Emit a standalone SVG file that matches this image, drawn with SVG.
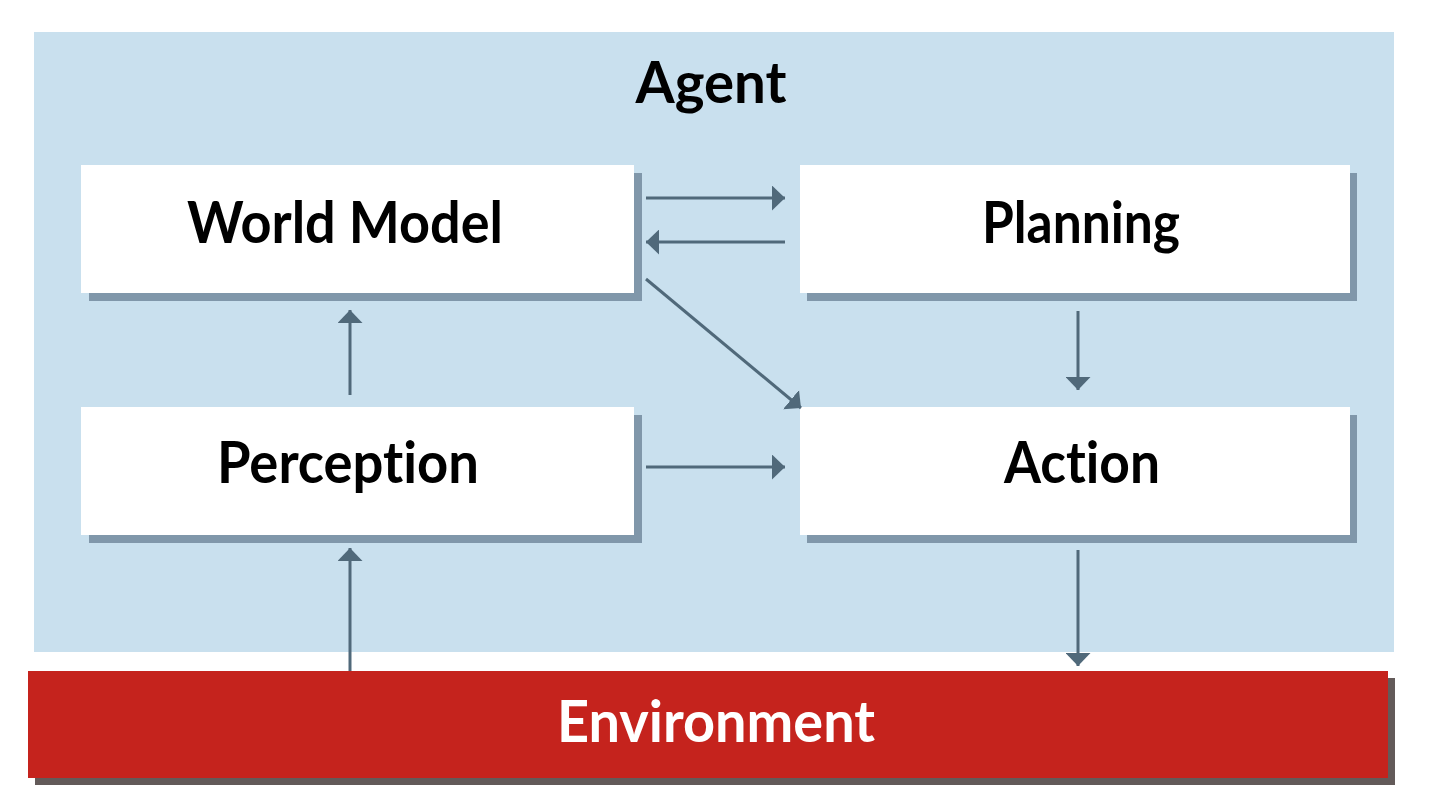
<svg xmlns="http://www.w3.org/2000/svg" width="1440" height="810" viewBox="0 0 1440 810">
<defs>
<marker id="ah" viewBox="0 0 13 25" refX="13" refY="12.5" markerWidth="13" markerHeight="25" markerUnits="userSpaceOnUse" orient="auto">
<path d="M0,0 L13,12.5 L0,25 Z" fill="#50697A"/>
</marker>
<style>
.lbl{font-family:Lato,"Liberation Sans",sans-serif;font-weight:700;font-size:58px;text-anchor:middle;fill:#000;font-variant-ligatures:none;font-feature-settings:"liga" 0,"clig" 0}
.box{fill:#fff}
.sh{fill:#8097AA}
.conn{stroke:#50697A;stroke-width:3;fill:none;marker-end:url(#ah)}
</style>
</defs>
<rect width="1440" height="810" fill="#fff"/>
<g id="agent">
<rect x="34" y="32" width="1360" height="620" fill="#C9E0EE"/>
<text class="lbl" x="711" y="103" textLength="151" lengthAdjust="spacingAndGlyphs">Agent</text>
</g>
<g id="world-model">
<rect class="sh" x="89" y="173" width="553" height="128"/>
<rect class="box" x="81" y="165" width="553" height="128"/>
<text class="lbl" x="345" y="243" textLength="316" lengthAdjust="spacingAndGlyphs">World Model</text>
</g>
<g id="planning">
<rect class="sh" x="807" y="173" width="550" height="128"/>
<rect class="box" x="800" y="165" width="550" height="128"/>
<text class="lbl" x="1081" y="243" textLength="198" lengthAdjust="spacingAndGlyphs">Planning</text>
</g>
<g id="perception">
<rect class="sh" x="89" y="415" width="553" height="128"/>
<rect class="box" x="81" y="407" width="553" height="128"/>
<text class="lbl" x="348" y="483" textLength="262" lengthAdjust="spacingAndGlyphs">Perception</text>
</g>
<g id="action">
<rect class="sh" x="807" y="415" width="550" height="128"/>
<rect class="box" x="800" y="407" width="550" height="128"/>
<text class="lbl" x="1082" y="483" textLength="156" lengthAdjust="spacingAndGlyphs">Action</text>
</g>
<g id="environment">
<rect x="35" y="678" width="1360" height="107" fill="#635A59"/>
<rect x="28" y="671" width="1360" height="107" fill="#C5231D"/>
<text class="lbl" x="716" y="742" style="fill:#fff" textLength="318" lengthAdjust="spacingAndGlyphs">Environment</text>
</g>
<g id="connectors">
<line class="conn" x1="646" y1="198" x2="785" y2="198"/>
<line class="conn" x1="785" y1="242" x2="646" y2="242"/>
<line class="conn" x1="646" y1="279" x2="801" y2="408"/>
<line class="conn" x1="350" y1="395" x2="350" y2="310"/>
<line class="conn" x1="1078" y1="311" x2="1078" y2="390"/>
<line class="conn" x1="646" y1="467" x2="785" y2="467"/>
<line class="conn" x1="1078" y1="550" x2="1078" y2="666"/>
<line class="conn" x1="350" y1="671" x2="350" y2="548"/>
</g>
</svg>
